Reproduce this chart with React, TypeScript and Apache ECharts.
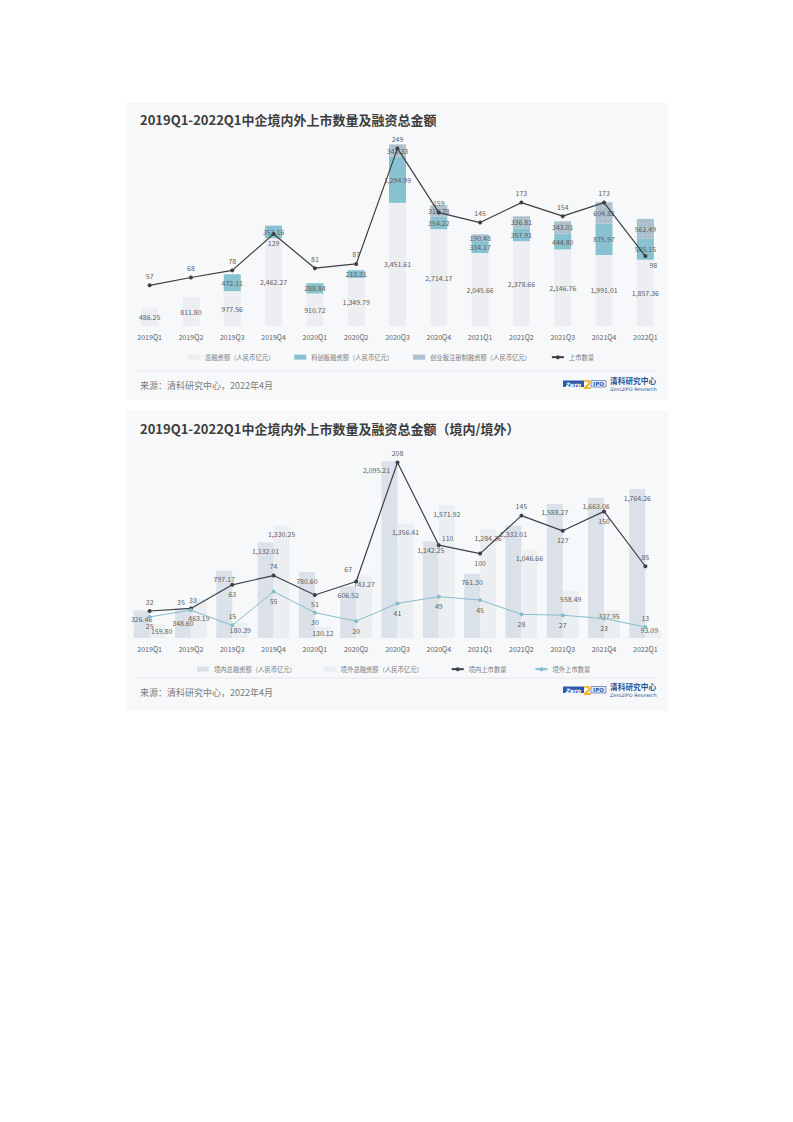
import React, { useEffect, useRef } from "react";
import * as echarts from "echarts";

const categories = ["2019Q1", "2019Q2", "2019Q3", "2019Q4", "2020Q1", "2020Q2", "2020Q3", "2020Q4", "2021Q1", "2021Q2", "2021Q3", "2021Q4", "2022Q1"];

// Chart 1
const totalFinancing = [486.25, 811.8, 977.56, 2462.27, 910.72, 1349.79, 3451.61, 2714.17, 2045.66, 2378.66, 2146.76, 1991.01, 1857.36];
const starMarketFinancing = [null, null, 472.11, 352.16, 288.84, 213.31, 1294.99, 354.22, 334.17, 357.91, 444.8, 875.97, 585.15];
const chinextRegFinancing = [null, null, null, null, null, null, 343.33, 316.78, 190.48, 336.81, 343.01, 604.82, 562.49];
const listingCount = [57, 68, 78, 129, 81, 87, 249, 159, 145, 173, 154, 173, 98];

// Chart 2
const domesticFinancing = [326.46, 348.6, 797.17, 1132.01, 780.6, 606.52, 2095.21, 1142.25, 761.3, 1332.01, 1588.27, 1663.06, 1764.26];
const overseasFinancing = [159.8, 463.19, 180.39, 1330.25, 130.12, 743.27, 1356.41, 1571.92, 1284.36, 1046.66, 558.49, 327.95, 93.09];
const domesticListings = [32, 35, 63, 74, 51, 67, 208, 110, 100, 145, 127, 150, 85];
const overseasListings = [25, 33, 15, 55, 30, 20, 41, 49, 45, 28, 27, 23, 13];

const TITLE1 = "2019Q1-2022Q1中企境内外上市数量及融资总金额";
const TITLE2 = "2019Q1-2022Q1中企境内外上市数量及融资总金额（境内/境外）";
const SOURCE = "来源：清科研究中心，2022年4月";

const FONT = "'Noto Sans CJK SC', 'Noto Sans', sans-serif";
const LABEL_COLOR = "#5f5f5f";

// label placement overrides (style only)
const line1Pos: Record<number, any> = { 3: { position: "bottom" }, 12: { position: "bottom", offset: [8, -1] } };
const dom2Pos: Record<number, any> = { 1: { offset: [0, 6] }, 6: { offset: [-13, 0] } };
const ovs2Pos: Record<number, any> = {
  0: { position: "inside", offset: [4, 0] },
  1: { position: "inside" },
  2: { position: "inside" },
  4: { position: "inside" },
  11: { offset: [-3, -3] },
  12: { position: "top", offset: [-4, 8] },
};
const domLinePos: Record<number, any> = {
  0: { position: "top" },
  1: { position: "top", offset: [-10, 3] },
  2: { position: "bottom" },
  3: { position: "top" },
  4: { position: "bottom" },
  5: { position: "top", offset: [-8, -3] },
  6: { position: "top" },
  7: { position: "right", offset: [-3, -7] },
  8: { position: "bottom" },
  9: { position: "top" },
  10: { position: "bottom" },
  11: { position: "bottom" },
  12: { position: "top" },
};
const ovsLinePos: Record<number, any> = { 1: { position: "top", offset: [2, -1] }, 2: { position: "top" }, 12: { position: "top" } };

const fmt2 = (v: number) =>
  Number(v).toLocaleString("en-US", { minimumFractionDigits: 2, maximumFractionDigits: 2 });

function withLabels(values: (number | null)[], overrides: Record<number, any>) {
  return values.map((v, i) => {
    if (v === null) return "-";
    const o = overrides[i];
    return o ? { value: v, label: o } : v;
  });
}

function logo(dy: number) {
  const blue = "#2c5aa6";
  return [
    { type: "rect", shape: { x: 563, y: 380.5 + dy, width: 21, height: 6.5 }, style: { fill: blue }, z: 1 },
    { type: "text", style: { text: "Zero", x: 573.5, y: 384 + dy, fill: "#ffffff", font: "italic bold 6px 'DejaVu Sans'", align: "center", verticalAlign: "middle" }, z: 2 },
    { type: "rect", shape: { x: 591, y: 380.5 + dy, width: 15, height: 6.5 }, style: { fill: "#e3ebf5", stroke: blue, lineWidth: 0.6 }, z: 1 },
    { type: "text", style: { text: "IPO", x: 598.5, y: 384 + dy, fill: blue, font: "bold 5.5px 'DejaVu Sans'", align: "center", verticalAlign: "middle" }, z: 2 },
    { type: "text", style: { text: "2", x: 587.5, y: 384 + dy, fill: "#f2b41e", font: "bold 13px 'DejaVu Sans'", align: "center", verticalAlign: "middle" }, z: 3 },
    { type: "text", style: { text: "清科研究中心", x: 610, y: 380.5 + dy, fill: "#2a4f8f", font: `bold 7.7px ${FONT}`, align: "left", verticalAlign: "middle" }, z: 2 },
    { type: "text", style: { text: "Zero2IPO Research", x: 610, y: 389 + dy, fill: "#2a4f8f", font: "4.9px 'DejaVu Sans'", align: "left", verticalAlign: "middle" }, z: 2 },
  ];
}

function panel(y: number, h: number, titleY: number, title: string, sepY: number, srcY: number, dy: number) {
  return [
    { type: "rect", shape: { x: 126.5, y, width: 542, height: h }, style: { fill: "#f7f8fa" }, z: -10 },
    { type: "text", style: { text: title, x: 140, y: titleY, fill: "#3d3d3d", font: `bold 13px ${FONT}`, align: "left", verticalAlign: "middle" }, z: 1 },
    { type: "line", shape: { x1: 135, y1: sepY, x2: 657, y2: sepY }, style: { stroke: "#e4e6ea", lineWidth: 1 }, z: 1 },
    { type: "text", style: { text: SOURCE, x: 140, y: srcY, fill: "#7b7b7b", font: `9px ${FONT}`, align: "left", verticalAlign: "middle" }, z: 1 },
    ...logo(dy),
  ];
}

const xAxisBase = {
  type: "category",
  data: categories,
  axisLine: { show: false },
  axisTick: { show: false },
  axisLabel: { fontSize: 7, color: LABEL_COLOR, margin: 7, fontFamily: FONT },
};

const barLabel = { show: true, fontSize: 7, color: LABEL_COLOR, fontFamily: FONT, formatter: (p: any) => fmt2(p.value) };
const lineLabel = { show: true, fontSize: 7, color: LABEL_COLOR, fontFamily: FONT, distance: 4 };

const legendText = { fontSize: 6.3, color: "#7a7a7a", fontFamily: FONT };

const option: any = {
  animation: false,
  backgroundColor: "#ffffff",
  textStyle: { fontFamily: FONT },
  graphic: {
    elements: [
      ...panel(103, 297, 119, TITLE1, 371, 385.7, 0),
      ...panel(410.5, 300.5, 428, TITLE2, 678, 692.7, 306),
    ],
  },
  grid: [
    { left: 129, right: 127, top: 112, height: 214 },
    { left: 129, right: 127, top: 427, height: 211 },
  ],
  xAxis: [
    { ...xAxisBase, gridIndex: 0 },
    { ...xAxisBase, gridIndex: 1 },
  ],
  yAxis: [
    { type: "value", gridIndex: 0, min: 0, max: 6000, show: false },
    { type: "value", gridIndex: 0, min: 0, max: 300, show: false },
    { type: "value", gridIndex: 1, min: 0, max: 2500, show: false },
    { type: "value", gridIndex: 1, min: 0, max: 250, show: false },
  ],
  legend: [
    {
      left: 188,
      top: 354,
      padding: 0,
      itemWidth: 12,
      itemHeight: 5,
      itemGap: 20,
      textStyle: legendText,
      data: [
        { name: "总融资额（人民币亿元）", icon: "rect" },
        { name: "科创板融资额（人民币亿元）", icon: "rect" },
        { name: "创业板注册制融资额（人民币亿元）", icon: "rect" },
        { name: "上市数量" },
      ],
    },
    {
      left: 197,
      top: 666,
      padding: 0,
      itemWidth: 12,
      itemHeight: 5,
      itemGap: 28,
      textStyle: legendText,
      data: [
        { name: "境内总融资额（人民币亿元）", icon: "rect" },
        { name: "境外总融资额（人民币亿元）", icon: "rect" },
        { name: "境内上市数量" },
        { name: "境外上市数量" },
      ],
    },
  ],
  series: [
    {
      name: "总融资额（人民币亿元）",
      type: "bar",
      xAxisIndex: 0,
      yAxisIndex: 0,
      stack: "fin",
      barWidth: 17,
      itemStyle: { color: "#eceef1" },
      label: { ...barLabel, position: "inside" },
      data: totalFinancing,
    },
    {
      name: "科创板融资额（人民币亿元）",
      type: "bar",
      xAxisIndex: 0,
      yAxisIndex: 0,
      stack: "fin",
      barWidth: 17,
      itemStyle: { color: "#88c1cf" },
      label: { ...barLabel, position: "inside" },
      data: withLabels(starMarketFinancing, {}),
    },
    {
      name: "创业板注册制融资额（人民币亿元）",
      type: "bar",
      xAxisIndex: 0,
      yAxisIndex: 0,
      stack: "fin",
      barWidth: 17,
      itemStyle: {
        color: "#aec3cf",
        decal: { symbol: "circle", symbolSize: 0.6, color: "rgba(120,140,155,0.45)", dashArrayX: 2, dashArrayY: 2 },
      },
      label: { ...barLabel, position: "inside" },
      data: withLabels(chinextRegFinancing, {}),
    },
    {
      name: "上市数量",
      type: "line",
      xAxisIndex: 0,
      yAxisIndex: 1,
      z: 5,
      symbol: "circle",
      symbolSize: 4,
      lineStyle: { color: "#3f3f3f", width: 1.2 },
      itemStyle: { color: "#3f3f3f" },
      label: { ...lineLabel, position: "top" },
      data: withLabels(listingCount, line1Pos),
    },
    {
      name: "境内总融资额（人民币亿元）",
      type: "bar",
      xAxisIndex: 1,
      yAxisIndex: 2,
      barWidth: 16,
      barGap: "0%",
      itemStyle: { color: "#dbe1e8" },
      label: { ...barLabel, position: "insideTop" },
      data: withLabels(domesticFinancing, dom2Pos),
    },
    {
      name: "境外总融资额（人民币亿元）",
      type: "bar",
      xAxisIndex: 1,
      yAxisIndex: 2,
      barWidth: 16,
      barGap: "0%",
      itemStyle: { color: "#eceff2" },
      label: { ...barLabel, position: "insideTop" },
      data: withLabels(overseasFinancing, ovs2Pos),
    },
    {
      name: "境内上市数量",
      type: "line",
      xAxisIndex: 1,
      yAxisIndex: 3,
      z: 5,
      symbol: "circle",
      symbolSize: 4,
      lineStyle: { color: "#3c4149", width: 1.2 },
      itemStyle: { color: "#3c4149" },
      label: { ...lineLabel, position: "top" },
      data: withLabels(domesticListings, domLinePos),
    },
    {
      name: "境外上市数量",
      type: "line",
      xAxisIndex: 1,
      yAxisIndex: 3,
      z: 5,
      symbol: "circle",
      symbolSize: 4,
      lineStyle: { color: "#86bccb", width: 1 },
      itemStyle: { color: "#86bccb" },
      label: { ...lineLabel, position: "bottom" },
      data: withLabels(overseasListings, ovsLinePos),
    },
  ],
};

export default function App() {
  const ref = useRef<HTMLDivElement>(null);
  useEffect(() => {
    if (!ref.current) return;
    const chart = echarts.init(ref.current, null, { renderer: "svg" });
    chart.setOption(option);
    return () => chart.dispose();
  }, []);
  return (
    <div
      ref={ref}
      style={{ position: "absolute", left: 0, top: 0, width: 793, height: 1122, background: "#ffffff" }}
    />
  );
}
